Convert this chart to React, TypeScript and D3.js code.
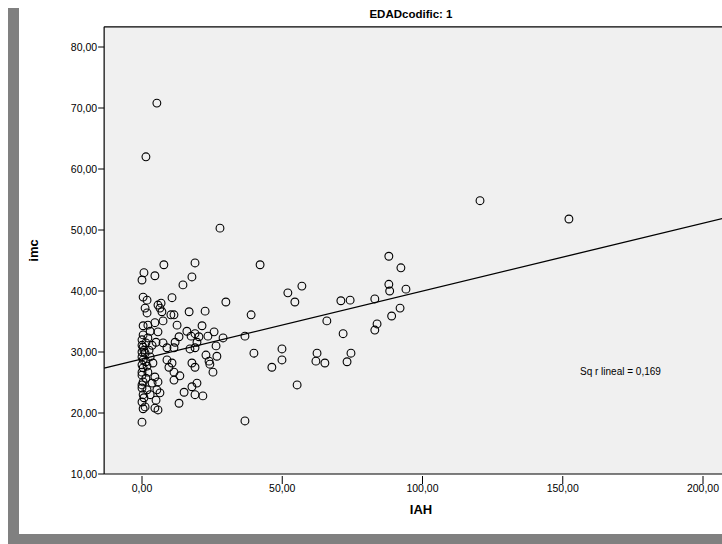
import React from "react";
import * as d3 from "d3";

const iahValues: number[] = [
  5.3, 1.4, 120.5, 152.2, 27.8, 42.1, 7.8, 18.9, 0.7, 0, 4.6, 17.8, 14.6, 0.4, 1.8, 10.7, 1.1, 5.7, 6.8, 6.4,
  1.8, 7.1, 10.3, 0.4, 2.1, 4.6, 7.5, 2.9, 5.7, 0.4, 0, 2.1, 5.0, 7.5, 0.4, 3.6, 8.9, 0, 1.1, 2.9,
  0.4, 3.9, 8.9, 9.6, 0.4, 2.1, 0, 4.6, 0.4, 3.6, 5.7, 0, 1.8, 5.3, 0.4, 6.4, 0, 1.1, 0.4, 5.0,
  5.7, 4.6, 0,
  0, 1.4, 0.7, 2.5, 0, 1.4, 0, 1.8, 0, 1.4, 0, 2.9, 0.7,
  16.8, 11.4, 12.5, 16.0, 17.5, 18.9, 20.3, 13.2, 11.8, 19.6, 11.4, 17.1, 18.9, 17.8, 18.9, 10.7, 11.4, 13.5, 11.4, 19.6,
  17.8, 15.0, 18.9, 13.2,
  52.0, 57.0, 54.5, 29.9, 22.5, 38.9, 21.4, 25.7, 23.5, 28.9, 36.7, 26.4, 39.9, 49.9, 49.9, 46.3, 62.4, 62.0, 22.8, 26.7,
  23.9, 24.2, 25.3, 55.3, 21.7, 36.7,
  88.0, 92.3, 88.0, 88.3, 94.1, 70.9, 74.2, 83.0, 92.0, 89.0, 65.9, 83.8, 83.0, 71.7, 65.2, 74.5, 73.1,
];

const imcValues: number[] = [
  70.8, 62.0, 54.8, 51.8, 50.3, 44.3, 44.3, 44.6, 43.0, 41.8, 42.5, 42.3, 41.0, 39.0, 38.5, 38.9, 37.2, 37.7, 38.0, 37.2,
  36.4, 36.6, 36.1, 34.3, 34.4, 34.8, 35.1, 33.4, 33.3, 32.8, 32.0, 32.3, 31.6, 31.5, 30.8, 31.1, 30.7, 30.0, 29.8, 29.2,
  28.7, 28.2, 28.7, 27.5, 27.4, 26.7, 26.2, 25.9, 25.1, 24.9, 25.1, 24.1, 23.8, 23.8, 23.0, 23.3, 21.8, 21.0, 20.7, 22.1,
  20.5, 20.8, 18.5,
  31.1, 31.5, 30.3, 30.3, 29.2, 28.4, 27.9, 27.7, 26.7, 25.7, 24.6, 23.0, 22.5,
  36.6, 36.1, 34.4, 33.4, 32.6, 33.0, 32.5, 32.5, 31.6, 31.6, 30.7, 30.5, 30.7, 28.2, 27.5, 28.2, 26.7, 26.1, 25.4, 24.9,
  24.3, 23.4, 23.0, 21.6,
  39.7, 40.8, 38.2, 38.2, 36.7, 36.1, 34.3, 33.3, 32.6, 32.3, 32.6, 31.0, 29.8, 30.5, 28.7, 27.5, 29.8, 28.5, 29.5, 29.3,
  28.5, 28.0, 26.7, 24.6, 22.8, 18.7,
  45.7, 43.8, 41.1, 40.0, 40.3, 38.4, 38.5, 38.7, 37.2, 35.9, 35.1, 34.6, 33.6, 33.0, 28.2, 29.8, 28.4,
];

const xTicks: number[] = [0, 50, 100, 150, 200];
const yTicks: number[] = [10, 20, 30, 40, 50, 60, 70, 80];
const fitIntercept = 28.86;
const fitSlope = 0.1113;
const xDomainMin = -13.5;
const xDomainMax = 212;
const yDomainTop = 83.3;

const fmt = (v: number) => v.toFixed(2).replace(".", ",");

export default function App() {
  const W = 722;
  const H = 544;
  const x = d3.scaleLinear().domain([0, 200]).range([142, 703]);
  const y = d3.scaleLinear().domain([10, 80]).range([474, 47]);
  const left = x(xDomainMin);
  const right = x(xDomainMax);
  const top = y(yDomainTop);
  const bottom = y(10);
  const font = "'Liberation Sans', Arial, sans-serif";

  const line = d3
    .line<number>()
    .x((d) => x(d))
    .y((d) => y(fitIntercept + fitSlope * d));

  return (
    <svg
      width={W}
      height={H}
      style={{ position: "absolute", left: 0, top: 0, background: "#fff" }}
      fontFamily={font}
    >
      <defs>
        <clipPath id="plotClip">
          <rect x={left} y={top} width={right - left} height={bottom - top} />
        </clipPath>
      </defs>
      <rect x={8} y={8} width={11} height={H - 8} fill="#808080" />
      <rect x={8} y={534} width={W - 8} height={10} fill="#808080" />

      <text x={411} y={18} textAnchor="middle" fontSize={11.5} fontWeight="bold" fill="#000">
        EDADcodific: 1
      </text>

      <rect x={left} y={top} width={right - left} height={bottom - top} fill="#f0f0f0" />

      <g clipPath="url(#plotClip)">
        <path
          d={line([xDomainMin, xDomainMax]) || ""}
          fill="none"
          stroke="#000"
          strokeWidth={1.3}
        />
        {iahValues.map((v, i) => (
          <circle
            key={i}
            cx={x(v)}
            cy={y(imcValues[i])}
            r={3.9}
            fill="none"
            stroke="#000"
            strokeWidth={1.1}
          />
        ))}
      </g>

      <line x1={left} x2={left} y1={top} y2={bottom} stroke="#000" strokeWidth={1.2} />
      <line x1={left} x2={right} y1={bottom} y2={bottom} stroke="#000" strokeWidth={1.2} />
      <line x1={left} x2={right} y1={top} y2={top} stroke="#000" strokeWidth={1.2} />

      {yTicks.map((t) => (
        <g key={"y" + t}>
          <line x1={left - 6} x2={left} y1={y(t)} y2={y(t)} stroke="#000" strokeWidth={1} />
          <text x={left - 7} y={y(t) + 4} textAnchor="end" fontSize={10.5} fill="#000">
            {fmt(t)}
          </text>
        </g>
      ))}

      {xTicks.map((t) => (
        <g key={"x" + t}>
          <line x1={x(t)} x2={x(t)} y1={bottom + 2} y2={bottom + 10} stroke="#000" strokeWidth={1} />
          <text x={x(t)} y={bottom + 18} textAnchor="middle" fontSize={10.5} fill="#000">
            {fmt(t)}
          </text>
        </g>
      ))}

      <text
        x={0}
        y={0}
        transform={`translate(38, ${(top + bottom) / 2}) rotate(-90)`}
        textAnchor="middle"
        fontSize={13}
        fontWeight="bold"
        fill="#000"
      >
        imc
      </text>
      <text x={421} y={514} textAnchor="middle" fontSize={13} fontWeight="bold" fill="#000">
        IAH
      </text>

      <text x={580} y={375} fontSize={10} fill="#000">
        Sq r lineal = 0,169
      </text>
    </svg>
  );
}
